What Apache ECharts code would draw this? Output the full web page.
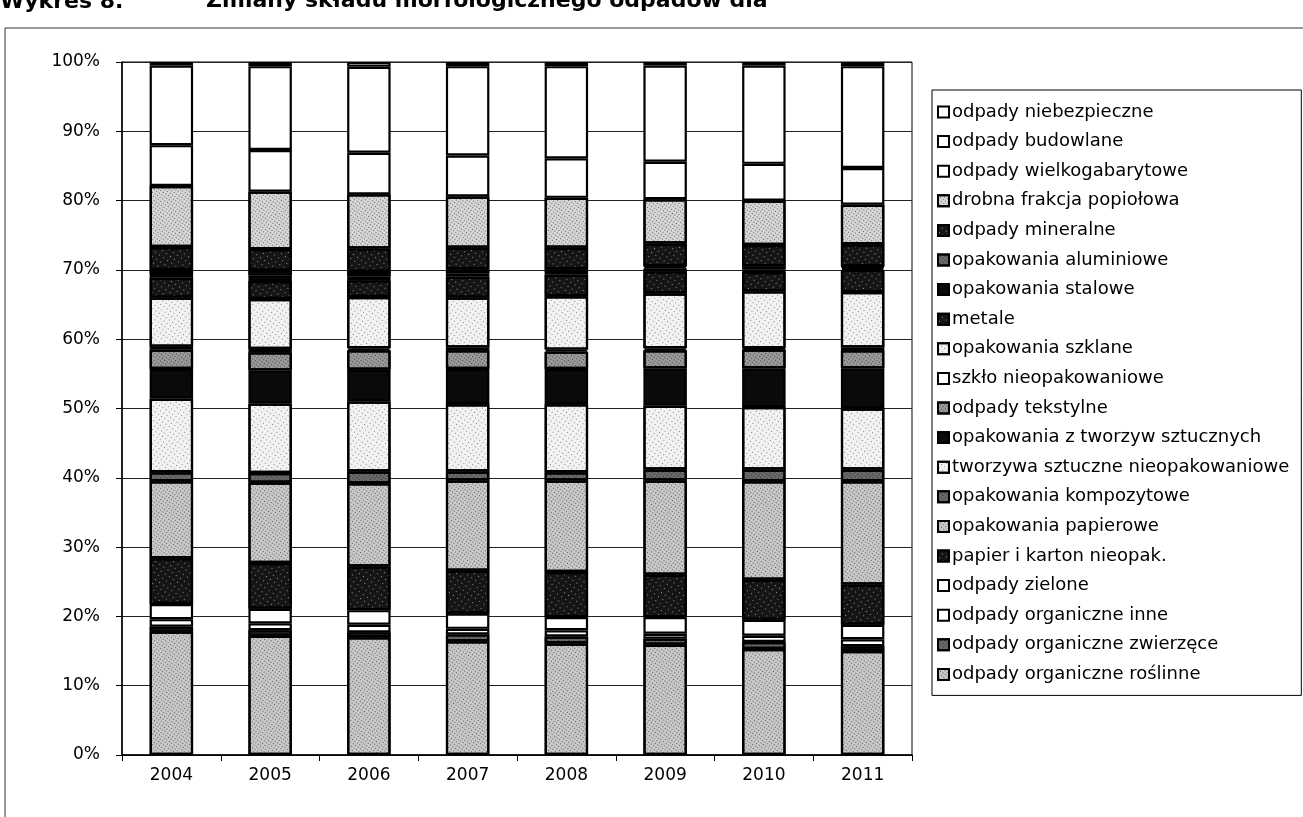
<!DOCTYPE html>
<html>
<head>
<meta charset="utf-8">
<script src="https://cdn.jsdelivr.net/npm/echarts@6/dist/echarts.min.js"></script>
<style>
  html, body { margin: 0; padding: 0; background: #fff; }
  #chart { width: 1303px; height: 817px; }
</style>
</head>
<body>
<div id="chart"></div>
<script>
// Years on the category axis
const years = ['2004', '2005', '2006', '2007', '2008', '2009', '2010', '2011'];

// Share of each waste fraction [%], listed from the bottom of the stack upwards
const roslinne    = [17.8, 17.2, 17.0, 16.4, 16.1, 15.9, 15.3, 15.0];
const zwierzece   = [0.7, 0.8, 0.7, 1.0, 1.0, 0.9, 1.0, 0.7];
const organInne   = [1.1, 1.0, 1.1, 0.8, 0.9, 0.7, 0.9, 1.0];
const zielone     = [2.2, 2.1, 2.1, 2.2, 1.9, 2.4, 2.3, 2.1];
const papierNie   = [6.6, 6.6, 6.3, 6.2, 6.5, 6.1, 5.8, 5.8];
const papierowe   = [11.1, 11.6, 12.0, 13.0, 13.2, 13.6, 14.2, 14.9];
const kompozyt    = [1.3, 1.4, 1.7, 1.3, 1.2, 1.6, 1.7, 1.7];
const tworzywaNie = [10.6, 10.0, 10.1, 9.7, 9.8, 9.2, 9.0, 8.8];
const opTworzyw   = [4.3, 4.8, 4.6, 5.1, 5.1, 5.4, 5.6, 5.8];
const tekstylne   = [2.8, 2.6, 2.8, 2.7, 2.5, 2.6, 2.7, 2.6];
const szkloNie    = [0.4, 0.5, 0.3, 0.4, 0.3, 0.3, 0.2, 0.4];
const szklane     = [7.1, 7.2, 7.4, 7.2, 7.7, 7.9, 8.2, 8.0];
const metale      = [2.9, 2.6, 2.4, 3.0, 3.1, 3.2, 2.8, 3.2];
const stalowe     = [0.5, 0.8, 0.6, 0.5, 0.4, 0.4, 0.4, 0.3];
const aluminiowe  = [0.6, 0.7, 0.6, 0.6, 0.4, 0.3, 0.4, 0.2];
const mineralne   = [3.3, 3.1, 3.4, 3.1, 3.1, 3.3, 3.1, 3.2];
const popiolowa   = [8.8, 8.3, 7.8, 7.4, 7.2, 6.4, 6.4, 5.7];
const wielkogab   = [5.9, 6.0, 6.0, 5.9, 5.7, 5.4, 5.3, 5.3];
const budowlane   = [11.5, 12.1, 12.4, 12.9, 13.3, 13.9, 14.2, 14.7];
const niebezp     = [0.5, 0.6, 0.7, 0.6, 0.6, 0.5, 0.5, 0.6];

// Y axis tick labels
const yTicks = ['0%', '10%', '20%', '30%', '40%', '50%', '60%', '70%', '80%', '90%', '100%'];

// Halftone-like fills
const dots = (base, ink, size, gap) => ({
  color: base,
  decal: { symbol: 'rect', symbolSize: size, color: ink, dashArrayX: [1, gap], dashArrayY: [1, gap], rotation: 0.6 }
});
const fills = {
  grayDots:  dots('#c8c8c8', 'rgba(0,0,0,0.55)', 1, 2),
  midGray:   dots('#9a9a9a', 'rgba(0,0,0,0.6)', 1, 2),
  white:     { color: '#ffffff' },
  blackDots: dots('#151515', 'rgba(255,255,255,0.55)', 1, 4),
  black:     { color: '#0a0a0a' },
  lightDots: dots('#f2f2f2', 'rgba(0,0,0,0.45)', 1, 3),
  darkGray:  dots('#6a6a6a', 'rgba(0,0,0,0.6)', 1, 2),
  ash:       dots('#d6d6d6', 'rgba(0,0,0,0.55)', 1, 2)
};

const seriesDefs = [
  ['odpady organiczne roślinne', roslinne, 'grayDots'],
  ['odpady organiczne zwierzęce', zwierzece, 'darkGray'],
  ['odpady organiczne inne', organInne, 'white'],
  ['odpady zielone', zielone, 'white'],
  ['papier i karton nieopak.', papierNie, 'blackDots'],
  ['opakowania papierowe', papierowe, 'grayDots'],
  ['opakowania kompozytowe', kompozyt, 'darkGray'],
  ['tworzywa sztuczne nieopakowaniowe', tworzywaNie, 'lightDots'],
  ['opakowania z tworzyw sztucznych', opTworzyw, 'black'],
  ['odpady tekstylne', tekstylne, 'midGray'],
  ['szkło nieopakowaniowe', szkloNie, 'white'],
  ['opakowania szklane', szklane, 'lightDots'],
  ['metale', metale, 'blackDots'],
  ['opakowania stalowe', stalowe, 'black'],
  ['opakowania aluminiowe', aluminiowe, 'darkGray'],
  ['odpady mineralne', mineralne, 'blackDots'],
  ['drobna frakcja popiołowa', popiolowa, 'ash'],
  ['odpady wielkogabarytowe', wielkogab, 'white'],
  ['odpady budowlane', budowlane, 'white'],
  ['odpady niebezpieczne', niebezp, 'white']
];

const font = 'DejaVu Sans';

const series = seriesDefs.map(([name, data, fill]) => ({
  name: name,
  type: 'bar',
  stack: 'total',
  barWidth: '44%',
  data: data,
  itemStyle: Object.assign({ borderColor: '#000', borderWidth: 2.2 }, fills[fill])
}));

const chart = echarts.init(document.getElementById('chart'), null, { renderer: 'canvas' });
chart.setOption({
  backgroundColor: '#ffffff',
  animation: false,
  graphic: [
    { type: 'text', left: 0, top: -9,
      style: { text: 'Wykres 8.', font: 'bold 22px "DejaVu Sans"', fill: '#000' } },
    { type: 'text', left: 206, top: -10,
      style: { text: 'Zmiany składu morfologicznego odpadów dla', font: 'bold 22px "DejaVu Sans"', fill: '#000' } },
    { type: 'polyline', shape: { points: [[5, 817], [5, 28], [1303, 28]] },
      style: { stroke: '#333', lineWidth: 1, fill: null } }
  ],
  grid: { left: 122, right: 391, top: 62, bottom: 62, show: true, borderColor: '#000', borderWidth: 1 },
  legend: {
    orient: 'vertical',
    left: 932, top: 90,
    padding: [13, 12, 12, 5],
    backgroundColor: '#fff',
    borderColor: '#000', borderWidth: 1,
    itemWidth: 11, itemHeight: 11, itemGap: 11.6,
    icon: 'rect',
    data: seriesDefs.map(d => d[0]).reverse(),
    textStyle: { fontFamily: font, fontSize: 18, color: '#000', lineHeight: 18, padding: [0, 0, 0, -2] }
  },
  xAxis: {
    type: 'category',
    data: years,
    axisLine: { lineStyle: { color: '#000', width: 1.5 } },
    axisTick: { show: true, length: 6, lineStyle: { color: '#000' } },
    axisLabel: { fontFamily: font, fontSize: 17, color: '#000', margin: 12 }
  },
  yAxis: {
    type: 'value',
    min: 0, max: 100, interval: 10,
    axisLine: { show: true, lineStyle: { color: '#000', width: 1.5 } },
    axisTick: { show: true, length: 6, lineStyle: { color: '#000' } },
    splitLine: { lineStyle: { color: '#222', width: 1 } },
    axisLabel: {
      fontFamily: font, fontSize: 17, color: '#000', margin: 22,
      formatter: v => yTicks[Math.round(v / 10)]
    }
  },
  series: series
});
</script>
</body>
</html>
